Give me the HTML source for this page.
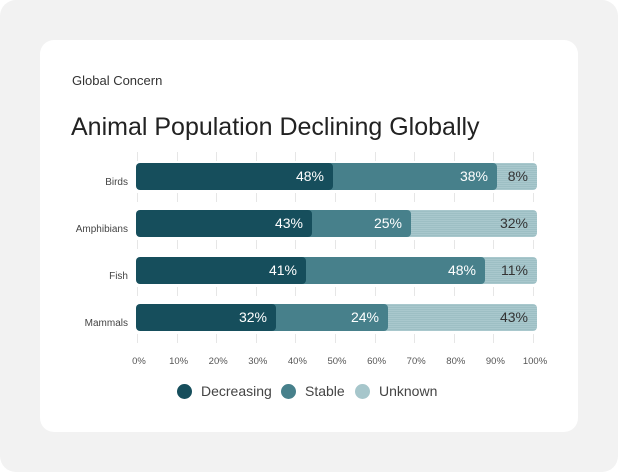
<!DOCTYPE html>
<html><head><style>
body{margin:0;width:618px;height:472px;background:#fff;font-family:"Liberation Sans",sans-serif;overflow:hidden}
.outer{position:absolute;left:0;top:0;width:618px;height:472px;background:#f2f2f2;border-radius:16px}
.card{position:absolute;left:40px;top:40px;width:538px;height:392px;background:#fff;border-radius:14px}
.t{position:absolute;color:#333}
.seg{position:absolute;height:27px;border-radius:4px;color:#fff;font-size:14px;line-height:27px;text-align:right;box-sizing:border-box;padding-right:9px}
.d{background:#164e5c}.s{background:#47808b}
.u{background:repeating-linear-gradient(180deg,#a9c8cd 0 1px,#9dbfc4 1px 2px);color:#333}
.lab{position:absolute;font-size:10px;color:#444;text-align:right;width:80px;left:48px}
.tick{position:absolute;top:356px;font-size:9.5px;color:#555;width:40px;text-align:center}
.g{position:absolute;width:1px;background:#e6e6e6}
.dot{position:absolute;width:15px;height:15px;border-radius:50%;top:384px}
.lg{position:absolute;top:383px;font-size:14px;color:#444}
</style></head><body>
<div class="outer"></div>
<div class="card"></div>
<div class="t" style="left:72px;top:73px;font-size:13px">Global Concern</div>
<div class="t" style="left:71px;top:113px;font-size:25px;color:#222">Animal Population Declining Globally</div>
<div id="grid"></div>
<div class="lab" style="top:177px">Birds</div>
<div class="lab" style="top:224px">Amphibians</div>
<div class="lab" style="top:271px">Fish</div>
<div class="lab" style="top:318px">Mammals</div>

<div class="seg u" style="left:490px;width:47px;top:163px">8%</div>
<div class="seg s" style="left:326px;width:171px;top:163px">38%</div>
<div class="seg d" style="left:136px;width:197px;top:163px">48%</div>

<div class="seg u" style="left:404px;width:133px;top:210px">32%</div>
<div class="seg s" style="left:305px;width:106px;top:210px">25%</div>
<div class="seg d" style="left:136px;width:176px;top:210px">43%</div>

<div class="seg u" style="left:478px;width:59px;top:257px">11%</div>
<div class="seg s" style="left:299px;width:186px;top:257px">48%</div>
<div class="seg d" style="left:136px;width:170px;top:257px">41%</div>

<div class="seg u" style="left:381px;width:156px;top:304px">43%</div>
<div class="seg s" style="left:269px;width:119px;top:304px">24%</div>
<div class="seg d" style="left:136px;width:140px;top:304px">32%</div>

<div class="dot" style="left:177px;background:#164e5c"></div><div class="lg" style="left:201px">Decreasing</div>
<div class="dot" style="left:281px;background:#47808b"></div><div class="lg" style="left:305px">Stable</div>
<div class="dot" style="left:355px;background:#a6c6cb"></div><div class="lg" style="left:379px">Unknown</div>
<script>
var h='';for(var i=0;i<=10;i++){var x=136+i*39.6;
[[152,9],[193,9],[240,9],[287,9],[334,9]].forEach(function(a){h+='<div class="g" style="left:'+(x+1)+'px;top:'+a[0]+'px;height:'+a[1]+'px"></div>'});
h+='<div class="tick" style="left:'+(x-17)+'px">'+(i*10)+'%</div>';}
document.getElementById('grid').innerHTML=h;
</script>
</body></html>
